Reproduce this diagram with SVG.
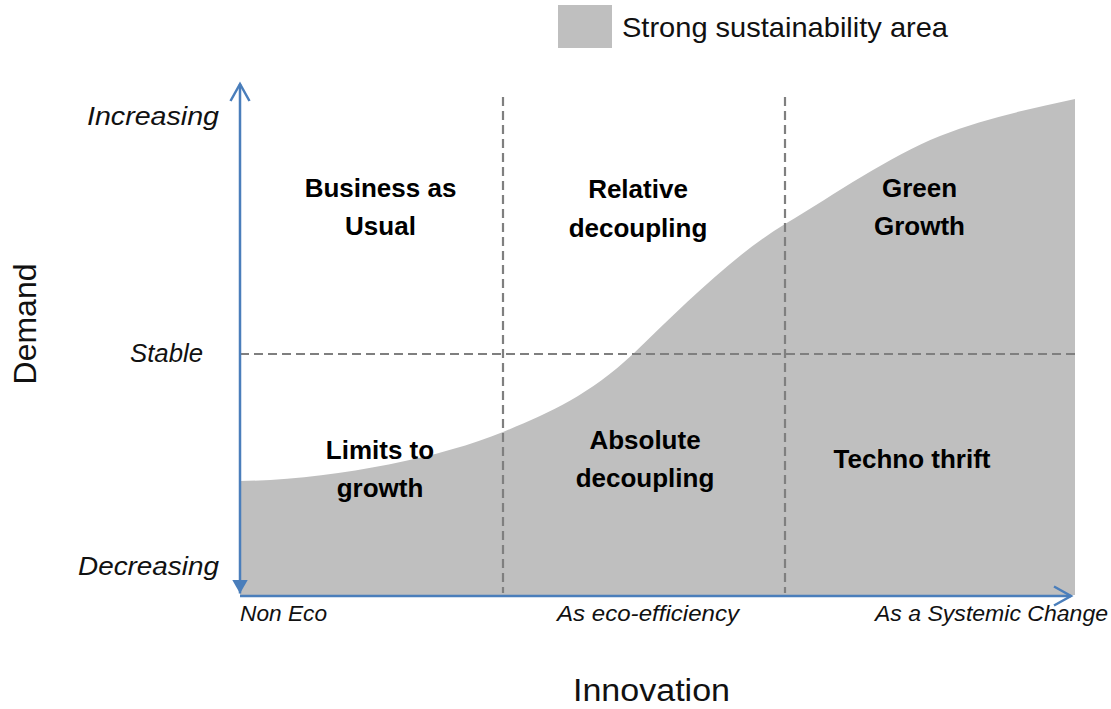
<svg xmlns="http://www.w3.org/2000/svg" width="1111" height="709" viewBox="0 0 1111 709">
  <style>
    .bold { font-family: "Liberation Sans", Arial, sans-serif; font-weight: bold; font-size: 26px; fill: #000; text-anchor: middle; }
    .ital { font-family: "Liberation Sans", Arial, sans-serif; font-style: italic; fill: #111; }
    .reg { font-family: "Liberation Sans", Arial, sans-serif; fill: #111; }
    .axis { stroke: #4a7ebb; stroke-width: 2.5; fill: none; }
    .dash { stroke: #7f7f7f; stroke-width: 2.2; stroke-dasharray: 9 5; fill: none; }
    .area { fill: #bfbfbf; }
  </style>
  <defs>
    <marker id="openArrow" markerUnits="userSpaceOnUse" viewBox="0 0 22 22" markerWidth="22" markerHeight="22" refX="19" refY="11" orient="auto">
      <path d="M2,1.5 L19,11 L2,20.5" fill="none" stroke="#4a7ebb" stroke-width="2.5"/>
    </marker>
    <marker id="solidArrow" markerUnits="userSpaceOnUse" viewBox="0 0 14 16" markerWidth="14" markerHeight="16" refX="14" refY="8" orient="auto-start-reverse">
      <path d="M0,0 L14,8 L0,16 Z" fill="#4a7ebb"/>
    </marker>
  </defs>

  <rect width="1111" height="709" fill="#fff"/>

  <!-- sustainability area -->
  <path id="area" class="area" d="M240,481 C330,480 440,458 503,432 C548,413.5 588,396 633,354 C683,305.5 735,254 785,224 C837,193 888,157 940,136 C985,118 1030,109 1075,99 L1075,595 L240,595 Z"/>

  <!-- legend -->
  <g id="legend">
    <rect x="558" y="5" width="54" height="43" class="area"/>
    <text x="622" y="37" class="reg" font-size="28" textLength="326" lengthAdjust="spacingAndGlyphs">Strong sustainability area</text>
  </g>

  <!-- connectors: axes and grid -->
  <g id="connectors">
    <line class="dash" x1="503" y1="97" x2="503" y2="593"/>
    <line class="dash" x1="785" y1="97" x2="785" y2="593"/>
    <line class="dash" x1="240" y1="354" x2="1075" y2="354"/>
    <line id="y-axis" class="axis" x1="240" y1="593.5" x2="240" y2="84" marker-start="url(#solidArrow)" marker-end="url(#openArrow)"/>
    <line id="x-axis" class="axis" x1="240" y1="596" x2="1071" y2="596" marker-end="url(#openArrow)"/>
  </g>

  <!-- axis labels -->
  <g id="y-labels">
    <text class="ital" x="87" y="125" font-size="26" textLength="132" lengthAdjust="spacingAndGlyphs">Increasing</text>
    <text class="ital" x="130" y="362" font-size="26" textLength="73" lengthAdjust="spacingAndGlyphs">Stable</text>
    <text class="ital" x="78" y="575" font-size="26" textLength="141" lengthAdjust="spacingAndGlyphs">Decreasing</text>
    <text class="reg" transform="translate(36,324) rotate(-90)" x="0" y="0" font-size="32" text-anchor="middle">Demand</text>
  </g>
  <g id="x-labels">
    <text class="ital" x="240" y="621" font-size="22" textLength="87" lengthAdjust="spacingAndGlyphs">Non Eco</text>
    <text class="ital" x="557" y="621" font-size="22" textLength="182" lengthAdjust="spacingAndGlyphs">As eco-efficiency</text>
    <text class="ital" x="875" y="621" font-size="22" textLength="233" lengthAdjust="spacingAndGlyphs">As a Systemic Change</text>
    <text class="reg" x="573" y="701" font-size="31" textLength="157" lengthAdjust="spacingAndGlyphs">Innovation</text>
  </g>

  <!-- quadrant nodes -->
  <g id="business-as-usual">
    <text class="bold" x="380.5" y="197">Business as</text>
    <text class="bold" x="380.5" y="235">Usual</text>
  </g>
  <g id="relative-decoupling">
    <text class="bold" x="638" y="198">Relative</text>
    <text class="bold" x="638" y="237">decoupling</text>
  </g>
  <g id="green-growth">
    <text class="bold" x="919.5" y="197">Green</text>
    <text class="bold" x="919.5" y="235">Growth</text>
  </g>
  <g id="limits-to-growth">
    <text class="bold" x="380" y="459">Limits to</text>
    <text class="bold" x="380" y="497">growth</text>
  </g>
  <g id="absolute-decoupling">
    <text class="bold" x="645" y="449">Absolute</text>
    <text class="bold" x="645" y="487">decoupling</text>
  </g>
  <g id="techno-thrift">
    <text class="bold" x="912" y="468">Techno thrift</text>
  </g>
</svg>
